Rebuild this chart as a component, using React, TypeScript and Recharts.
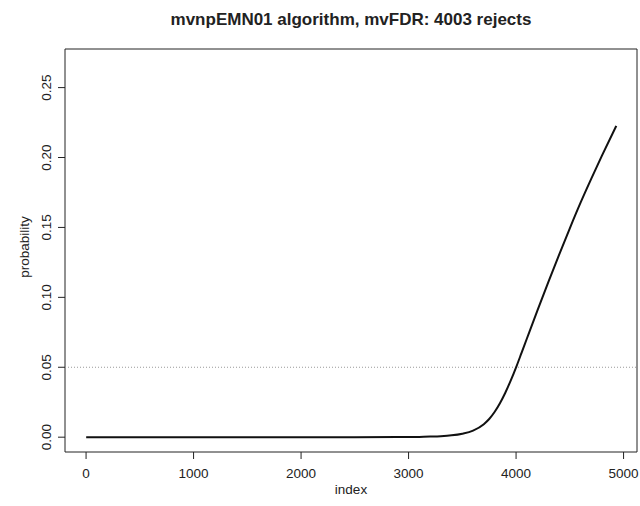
import {
  Line,
  LineChart,
  ReferenceArea,
  ReferenceLine,
  XAxis,
  YAxis,
} from 'recharts';

const INDEX = [
  1, 500, 1000, 1500, 2000, 2500, 3000, 3100, 3200, 3300, 3400, 3500, 3600, 3700, 3750, 3800,
  3850, 3900, 3950, 4003, 4050, 4100, 4200, 4300, 4400, 4500, 4600, 4700, 4800, 4932,
];
const PROBABILITY = [
  0, 0, 0, 0, 0, 0, 0.0001, 0.0002, 0.0004, 0.0007, 0.0013, 0.0025, 0.0047, 0.0093, 0.013, 0.018,
  0.0243, 0.0318, 0.0404, 0.0505, 0.0601, 0.0704, 0.0909, 0.1109, 0.1304, 0.1494, 0.1677, 0.1849,
  0.2015, 0.2226,
];
const X_TICKS = [0, 1000, 2000, 3000, 4000, 5000];
const Y_TICKS = [0, 0.05, 0.1, 0.15, 0.2, 0.25];
const THRESHOLD = 0.05;

const X_DOMAIN = [-196, 5125];
const Y_DOMAIN = [-0.0106, 0.2776];

const data = INDEX.map((index, i) => ({ index, probability: PROBABILITY[i] }));

const FONT = '"Liberation Sans", Arial, Helvetica, sans-serif';
const TICK_SIZE = 13.5;

function XTick({ x, y, payload }: any) {
  return (
    <text x={x} y={y + 19} textAnchor="middle" fontFamily={FONT} fontSize={TICK_SIZE} fill="#222">
      {payload.value}
    </text>
  );
}

function YTick({ x, y, payload }: any) {
  const bx = x - 7;
  return (
    <text
      x={bx}
      y={y}
      transform={`rotate(-90, ${bx}, ${y})`}
      textAnchor="middle"
      fontFamily={FONT}
      fontSize={TICK_SIZE}
      fill="#222"
    >
      {Number(payload.value).toFixed(2)}
    </text>
  );
}

export default function App() {
  return (
    <div style={{ position: 'absolute', left: 0, top: 0, width: 640, height: 506, background: '#fff' }}>
      <LineChart
        width={640}
        height={506}
        data={data}
        margin={{ top: 49, right: 3, bottom: 0, left: 0 }}
      >
        <XAxis
          dataKey="index"
          type="number"
          domain={X_DOMAIN}
          ticks={X_TICKS}
          allowDataOverflow
          height={54}
          axisLine={false}
          tickSize={7}
          tickMargin={0}
          tickLine={{ stroke: '#222' }}
          tick={<XTick />}
          interval={0}
        />
        <YAxis
          type="number"
          domain={Y_DOMAIN}
          ticks={Y_TICKS}
          allowDataOverflow
          width={65}
          axisLine={false}
          tickSize={7}
          tickMargin={0}
          tickLine={{ stroke: '#222' }}
          tick={<YTick />}
          interval={0}
        />
        <ReferenceArea
          x1={X_DOMAIN[0]}
          x2={X_DOMAIN[1]}
          y1={Y_DOMAIN[0]}
          y2={Y_DOMAIN[1]}
          fill="none"
          stroke="#222"
          strokeWidth={1}
          ifOverflow="visible"
        />
        <ReferenceLine y={THRESHOLD} stroke="#999" strokeDasharray="1 2" />
        <Line
          type="monotone"
          dataKey="probability"
          stroke="#111"
          strokeWidth={2}
          dot={false}
          isAnimationActive={false}
        />
      </LineChart>
      <div
        style={{
          position: 'absolute',
          left: 65,
          width: 572,
          top: 10,
          textAlign: 'center',
          fontFamily: FONT,
          fontWeight: 'bold',
          fontSize: 17,
          color: '#222',
        }}
      >
        mvnpEMN01 algorithm, mvFDR: 4003 rejects
      </div>
      <div
        style={{
          position: 'absolute',
          left: 65,
          width: 572,
          top: 482,
          textAlign: 'center',
          fontFamily: FONT,
          fontSize: 13.5,
          color: '#222',
        }}
      >
        index
      </div>
      <div
        style={{
          position: 'absolute',
          left: 24,
          top: 247,
          transform: 'translate(-50%, -50%) rotate(-90deg)',
          fontFamily: FONT,
          fontSize: 13.5,
          color: '#222',
          whiteSpace: 'nowrap',
        }}
      >
        probability
      </div>
    </div>
  );
}
